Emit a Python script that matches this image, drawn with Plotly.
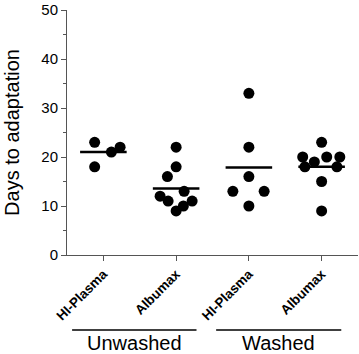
import plotly.graph_objects as go
import numpy as np

categories = ["HI-Plasma", "Albumax", "HI-Plasma", "Albumax"]
groups = ["Unwashed", "Washed"]

unwashed_plasma = [23, 18, 21, 22]
unwashed_albumax = [22, 18, 16, 12, 11, 13, 9, 10, 11]
washed_plasma = [33, 22, 16, 13, 13, 10]
washed_albumax = [23, 20, 20, 20, 19, 18, 18, 15, 9]

series = [unwashed_plasma, unwashed_albumax, washed_plasma, washed_albumax]

# horizontal scatter offsets (beeswarm-like arrangement), in category units
jitter = [
    [-0.12, -0.12, 0.11, 0.23],
    [0.0, 0.0, -0.12, -0.22, -0.11, 0.11, 0.0, 0.10, 0.22],
    [0.0, 0.0, 0.0, -0.22, 0.21, 0.0],
    [0.0, -0.26, 0.07, 0.25, -0.10, -0.23, 0.21, 0.0, 0.0],
]

fig = go.Figure()
for i, (vals, jit) in enumerate(zip(series, jitter)):
    fig.add_trace(go.Scatter(
        x=[i + j for j in jit], y=vals, mode="markers",
        marker=dict(color="black", size=11, line=dict(width=0)),
        showlegend=False, hoverinfo="y", cliponaxis=False))
    m = float(np.mean(vals))
    fig.add_trace(go.Scatter(
        x=[i - 0.32, i + 0.32], y=[m, m], mode="lines",
        line=dict(color="black", width=2.5), showlegend=False,
        hoverinfo="skip"))

font = "Liberation Sans, Arial, sans-serif"

fig.update_layout(
    width=359, height=354,
    margin=dict(l=67, r=1, t=7, b=99),
    plot_bgcolor="white", paper_bgcolor="white",
    font=dict(family=font, color="black"),
    xaxis=dict(
        range=[-0.5, 3.5], showgrid=False, zeroline=False,
        showline=True, linecolor="#555", linewidth=1,
        tickmode="array", tickvals=[0, 1, 2, 3],
        ticktext=["<b>%s</b>" % c for c in categories],
        tickangle=-45, ticks="outside", ticklen=5, tickcolor="#555",
        tickfont=dict(size=13.5, family=font, color="black"),
    ),
    yaxis=dict(
        range=[0, 50], showgrid=False, zeroline=False,
        showline=True, linecolor="#555", linewidth=1,
        tickmode="array", tickvals=[0, 10, 20, 30, 40, 50],
        ticks="outside", ticklen=5, tickcolor="#555",
        ticklabeloverflow="allow",
        tickfont=dict(size=15, family=font, color="black"),
        minor=dict(tickvals=[5, 15, 25, 35, 45], ticks="outside", ticklen=3, tickcolor="#555"),
        title=dict(text="Days to adaptation", font=dict(size=20, family=font), standoff=16),
    ),
)

group_spans = [(-0.43, 1.28), (1.55, 3.27)]
for g, (x0, x1) in zip(groups, group_spans):
    fig.add_shape(type="line", xref="x", yref="paper", x0=x0, x1=x1,
                  y0=-0.306, y1=-0.306, line=dict(color="black", width=1.5))
    fig.add_annotation(xref="x", yref="paper", x=(x0 + x1) / 2, y=-0.358,
                       text=g, showarrow=False, yanchor="middle",
                       font=dict(size=20, family=font, color="black"))

fig.write_html("out.html", config={"displayModeBar": False},
               post_script="document.body.style.margin='0';document.body.style.overflow='hidden';")
